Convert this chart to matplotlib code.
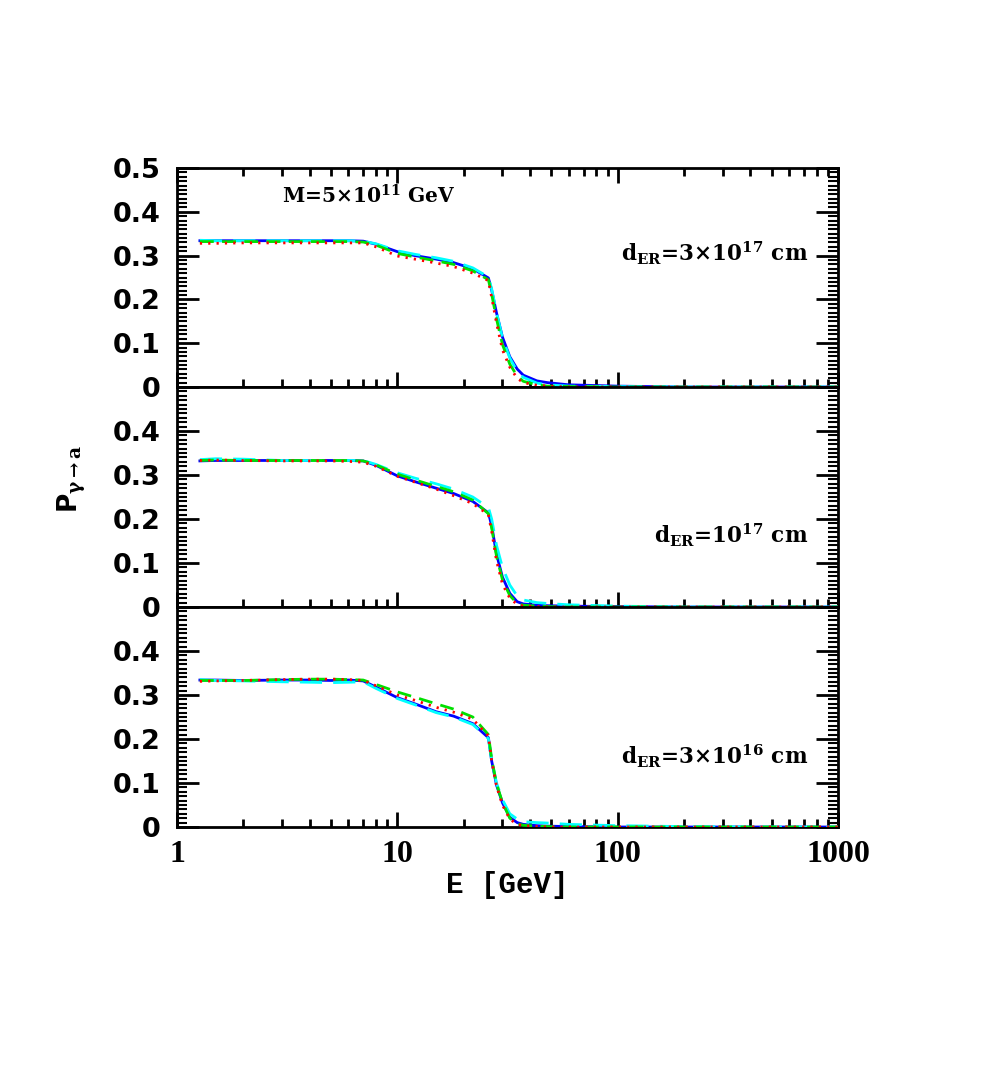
import numpy as np
import matplotlib.pyplot as plt
from matplotlib.ticker import MultipleLocator, LogLocator, NullFormatter

plt.rcParams['mathtext.fontset'] = 'dejavuserif'
plt.rcParams['mathtext.default'] = 'bf'

# energy grid [GeV]
E = [1.27, 1.5, 2.0, 3.0, 4.0, 5.0, 6.0, 7.0, 8.0, 10.0, 12.0, 15.0, 18.0, 22.0,
     25.9, 26.8, 28.2, 30.0, 32.4, 35.0, 37.3, 43.0, 48.0, 60.0, 100.0, 200.0, 500.0, 1000.0]

# top panel: d_ER = 3e17 cm
top_blue = [0.334, 0.334, 0.334, 0.334, 0.334, 0.334, 0.334, 0.333, 0.326, 0.309, 0.300, 0.292, 0.284, 0.270,
            0.249, 0.221, 0.169, 0.114, 0.069, 0.041, 0.027, 0.014, 0.010, 0.005, 0.002, 0.0, 0.0, 0.0]
top_cyan = [0.335, 0.334, 0.334, 0.334, 0.334, 0.334, 0.334, 0.333, 0.327, 0.311, 0.303, 0.295, 0.287, 0.272,
            0.251, 0.224, 0.170, 0.112, 0.066, 0.036, 0.022, 0.009, 0.005, 0.002, 0.001, 0.0, 0.0, 0.0]
top_green = [0.332, 0.332, 0.332, 0.332, 0.332, 0.332, 0.332, 0.331, 0.324, 0.305, 0.297, 0.288, 0.280, 0.265,
             0.245, 0.212, 0.155, 0.097, 0.052, 0.025, 0.013, 0.005, 0.002, 0.001, 0.0, 0.0, 0.0, 0.0]
top_red = [0.328, 0.328, 0.329, 0.329, 0.329, 0.329, 0.329, 0.329, 0.320, 0.299, 0.292, 0.283, 0.275, 0.260,
           0.243, 0.205, 0.146, 0.085, 0.045, 0.020, 0.010, 0.004, 0.002, 0.0, 0.0, 0.0, 0.0, 0.0]

# middle panel: d_ER = 1e17 cm
mid_blue = [0.332, 0.333, 0.333, 0.333, 0.333, 0.333, 0.333, 0.332, 0.322, 0.298, 0.285, 0.270, 0.258, 0.240,
            0.214, 0.185, 0.120, 0.068, 0.031, 0.012, 0.007, 0.004, 0.003, 0.002, 0.001, 0.0, 0.0, 0.0]
mid_cyan = [0.335, 0.337, 0.336, 0.333, 0.333, 0.333, 0.333, 0.333, 0.324, 0.305, 0.293, 0.280, 0.268, 0.250,
            0.226, 0.200, 0.140, 0.090, 0.050, 0.025, 0.016, 0.010, 0.008, 0.005, 0.002, 0.0, 0.0, 0.0]
mid_green = [0.333, 0.334, 0.333, 0.333, 0.333, 0.333, 0.333, 0.332, 0.323, 0.302, 0.289, 0.274, 0.262, 0.243,
             0.212, 0.180, 0.115, 0.062, 0.026, 0.008, 0.004, 0.002, 0.001, 0.0, 0.0, 0.0, 0.0, 0.0]
mid_red = [0.333, 0.334, 0.333, 0.332, 0.332, 0.332, 0.331, 0.329, 0.320, 0.297, 0.284, 0.268, 0.253, 0.235,
           0.210, 0.172, 0.105, 0.052, 0.020, 0.006, 0.002, 0.001, 0.0, 0.0, 0.0, 0.0, 0.0, 0.0]

# bottom panel: d_ER = 3e16 cm
bot_blue = [0.334, 0.334, 0.333, 0.334, 0.334, 0.333, 0.334, 0.332, 0.318, 0.294, 0.280, 0.262, 0.252, 0.235,
            0.203, 0.150, 0.095, 0.055, 0.022, 0.010, 0.006, 0.003, 0.002, 0.001, 0.0, 0.0, 0.0, 0.0]
bot_cyan = [0.335, 0.333, 0.332, 0.330, 0.329, 0.328, 0.329, 0.330, 0.315, 0.292, 0.278, 0.260, 0.250, 0.233,
            0.201, 0.152, 0.100, 0.062, 0.030, 0.018, 0.012, 0.010, 0.009, 0.006, 0.003, 0.001, 0.0, 0.0]
bot_green = [0.333, 0.333, 0.333, 0.335, 0.336, 0.336, 0.335, 0.334, 0.324, 0.307, 0.295, 0.280, 0.268, 0.250,
             0.210, 0.155, 0.098, 0.056, 0.020, 0.007, 0.004, 0.002, 0.001, 0.0, 0.0, 0.0, 0.0, 0.0]
bot_red = [0.331, 0.332, 0.333, 0.335, 0.336, 0.336, 0.335, 0.333, 0.321, 0.300, 0.288, 0.272, 0.261, 0.245,
           0.207, 0.150, 0.093, 0.050, 0.018, 0.006, 0.003, 0.001, 0.0, 0.0, 0.0, 0.0, 0.0, 0.0]

panels = [
    (top_blue, top_cyan, top_green, top_red, r'd$_{\mathbf{ER}}$=3$\times$10$^{17}$ cm'),
    (mid_blue, mid_cyan, mid_green, mid_red, r'd$_{\mathbf{ER}}$=10$^{17}$ cm'),
    (bot_blue, bot_cyan, bot_green, bot_red, r'd$_{\mathbf{ER}}$=3$\times$10$^{16}$ cm'),
]
label_y = [0.61, 0.325, 0.32]

fig = plt.figure(figsize=(9.97, 10.8), dpi=100)
left, width = 177 / 997, 661 / 997
tops = [168, 387, 607]
heights = [219, 220, 220]

for i, (b, c, g, r, lab) in enumerate(panels):
    bottom = 1 - (tops[i] + heights[i]) / 1080
    ax = fig.add_axes([left, bottom, width, heights[i] / 1080])
    ax.plot(E, b, color='#0000ff', lw=2.0, zorder=3)
    ax.plot(E, c, color='#00ffff', lw=2.0, dashes=(8, 4), zorder=4)
    ax.plot(E, g, color='#00e000', lw=2.0, dashes=(5, 3), zorder=5)
    ax.plot(E, r, color='#ff0000', lw=2.0, dashes=(0.8, 2.2), zorder=6)

    ax.set_xscale('log')
    ax.set_xlim(1, 1000)
    ax.set_ylim(0, 0.5)
    for s in ax.spines.values():
        s.set_linewidth(2)

    ax.yaxis.set_minor_locator(MultipleLocator(0.01))
    ax.set_yticks([0, 0.1, 0.2, 0.3, 0.4, 0.5])
    ax.set_yticklabels(['0', '0.1', '0.2', '0.3', '0.4', '0.5' if i == 0 else ''],
                       fontfamily='DejaVu Sans', fontweight='bold', fontsize=19.5)
    ax.xaxis.set_minor_locator(LogLocator(base=10, subs=np.arange(2, 10), numticks=10))
    ax.xaxis.set_minor_formatter(NullFormatter())
    ax.set_xticks([1, 10, 100, 1000])

    ax.tick_params(axis='y', which='major', direction='in', length=16, width=2,
                   left=True, right=True, pad=12)
    ax.tick_params(axis='y', which='minor', direction='in', length=7, width=1.5,
                   left=True, right=True)
    ax.tick_params(axis='x', which='major', direction='in', length=11, width=2,
                   top=(i == 0), bottom=True, pad=9)
    ax.tick_params(axis='x', which='minor', direction='in', length=6, width=2,
                   top=(i == 0), bottom=True)

    if i < 2:
        ax.set_xticklabels([])
    else:
        ax.set_xticklabels(['1', '10', '100', '1000'], fontfamily='Liberation Serif',
                           fontweight='bold', fontsize=23)
        ax.set_xlabel('E [GeV]', fontfamily='Liberation Mono', fontweight='bold', fontsize=21, labelpad=2)

    ax.text(0.955, label_y[i], lab, transform=ax.transAxes, ha='right', va='center',
            fontfamily='DejaVu Serif', fontweight='bold', fontsize=15.5)
    if i == 0:
        ax.text(0.29, 0.872, r'M=5$\times$10$^{11}$ GeV', transform=ax.transAxes,
                ha='center', va='center', fontfamily='DejaVu Serif', fontweight='bold', fontsize=14.5)
    if i == 1:
        ax.set_ylabel(r'P$_{\gamma\rightarrow a}$', fontfamily='DejaVu Sans', fontweight='bold',
                      fontsize=19, labelpad=16)
        ax.yaxis.set_label_coords(-0.135, 0.58)

fig.savefig('out.png', dpi=100)
